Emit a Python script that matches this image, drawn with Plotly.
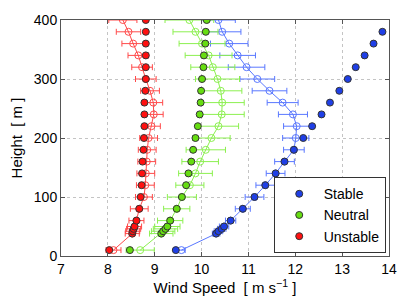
import plotly.graph_objects as go

heights = [10, 38, 42, 46, 50, 60, 80, 100, 120, 140, 160, 180, 200,
           220, 240, 260, 280, 300, 320, 340, 360, 380, 400]

# Filled markers (no error bars)
stable_fill = [9.45, 10.31, 10.36, 10.43, 10.48, 10.62, 10.88, 11.13, 11.36, 11.58, 11.77, 11.97, 12.17,
               12.36, 12.56, 12.74, 12.94, 13.12, 13.29, 13.48, 13.67, 13.86, None]
neutral_fill = [8.47, 9.14, 9.18, 9.23, 9.27, 9.33, 9.47, 9.58, 9.67, 9.72, 9.78, 9.82, 9.87,
                9.92, 9.96, 9.98, 9.99, 10.01, 10.04, 10.05, 10.08, 10.09, 10.11]
unstable_fill = [8.03, 8.52, 8.53, 8.55, 8.57, 8.61, 8.67, 8.70, 8.72, 8.73, 8.74, 8.76, 8.77,
                 8.78, 8.78, 8.78, 8.80, 8.81, 8.81, 8.81, 8.81, 8.81, 8.81]

# Open markers with line and error bars
stable_open = [9.57, 10.31, 10.36, 10.43, 10.48, 10.62, 10.88, 11.13, 11.36, 11.58, 11.77, 11.97, 12.01,
               12.03, 11.95, 11.73, 11.45, 11.19, 10.96, 10.77, 10.59, 10.44, 10.36]
stable_err = [0.08, 0.08, 0.09, 0.09, 0.1, 0.11, 0.16, 0.2, 0.2, 0.2, 0.21, 0.22, 0.28,
              0.28, 0.31, 0.33, 0.37, 0.37, 0.39, 0.38, 0.4, 0.4, 0.36]
neutral_open = [8.69, 9.14, 9.18, 9.23, 9.27, 9.33, 9.47, 9.58, 9.75, 9.87, 9.97, 10.09, 10.21,
                10.36, 10.43, 10.44, 10.41, 10.34, 10.24, 10.15, 10.01, 9.87, 9.74]
neutral_err = [0.3, 0.25, 0.25, 0.26, 0.27, 0.27, 0.28, 0.31, 0.3, 0.36, 0.39, 0.42, 0.4,
               0.43, 0.48, 0.47, 0.45, 0.47, 0.47, 0.5, 0.49, 0.48, 0.52]
unstable_open = [8.12, 8.52, 8.53, 8.55, 8.57, 8.61, 8.67, 8.77, 8.80, 8.81, 8.83, 8.84, 8.87,
                 8.93, 8.98, 8.97, 8.90, 8.81, 8.73, 8.65, 8.54, 8.44, 8.32]
unstable_err = [0.16, 0.15, 0.15, 0.15, 0.15, 0.16, 0.19, 0.18, 0.19, 0.19, 0.19, 0.19, 0.19,
                0.19, 0.2, 0.2, 0.2, 0.22, 0.22, 0.22, 0.24, 0.26, 0.3]

names = ["Stable", "Neutral", "Unstable"]
fill_colors = ["#1f3fe6", "#66dd11", "#ff1010"]
line_colors = ["#5a78ff", "#8cf050", "#ff4a4a"]

fig = go.Figure()

for opn, err, lc in [(stable_open, stable_err, line_colors[0]),
                     (neutral_open, neutral_err, line_colors[1]),
                     (unstable_open, unstable_err, line_colors[2])]:
    fig.add_trace(go.Scatter(
        x=opn, y=heights, mode="lines+markers", showlegend=False,
        line=dict(color=lc, width=1),
        marker=dict(symbol="circle-open", size=7, color=lc, line=dict(width=1, color=lc)),
        error_x=dict(type="data", array=err, visible=True, color=lc, thickness=1, width=3),
    ))

for fill, nm, fc in [(stable_fill, names[0], fill_colors[0]),
                     (neutral_fill, names[1], fill_colors[1]),
                     (unstable_fill, names[2], fill_colors[2])]:
    fig.add_trace(go.Scatter(
        x=fill, y=heights, mode="markers", name=nm,
        marker=dict(symbol="circle", size=7, color=fc, line=dict(width=1, color="#333333")),
    ))

axis_common = dict(
    showline=True, linecolor="#555555", linewidth=1, mirror="ticks",
    ticks="inside", ticklen=4, tickcolor="#555555",
    showgrid=True, gridcolor="#c4c4c4", griddash="dot", gridwidth=1,
    zeroline=False, tickfont=dict(size=14, color="black"), automargin=False,
)

# Page body has an 8px default margin, so the figure is sized to fit the window.
fig.update_layout(
    width=401, height=299,
    margin=dict(l=53, r=20, t=12, b=51),
    paper_bgcolor="white", plot_bgcolor="white",
    font=dict(family="Liberation Sans, Arial, sans-serif", size=14, color="black"),
    xaxis=dict(range=[7, 14], dtick=1, title=dict(text="Wind Speed  [ m s<sup>−1</sup> ]",
               font=dict(size=15), standoff=4), **axis_common),
    yaxis=dict(range=[0, 400], dtick=100, title=dict(text="Height  [ m ]",
               font=dict(size=15), standoff=8), **axis_common),
    legend=dict(x=0.99, y=0.012, xanchor="right", yanchor="bottom",
                bgcolor="white", bordercolor="#333333", borderwidth=1,
                font=dict(size=14), itemwidth=39, tracegroupgap=0),
    showlegend=True,
)

fig.write_html("out.html")
